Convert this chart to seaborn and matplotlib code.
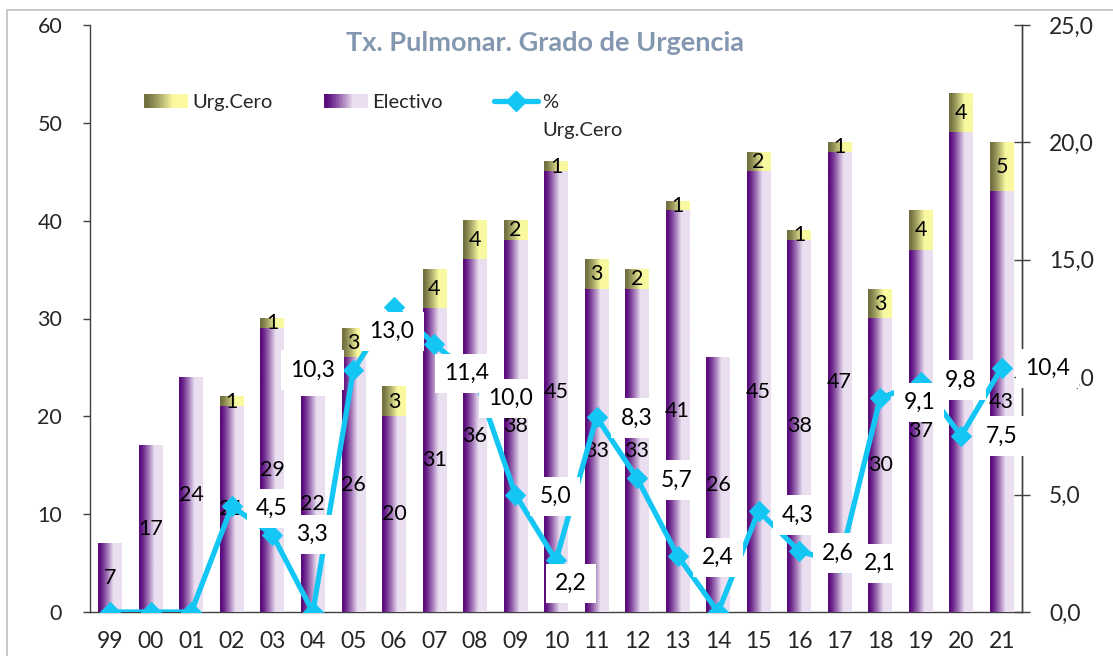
import numpy as np
import pandas as pd
import matplotlib
matplotlib.use("Agg")
import matplotlib.pyplot as plt
import seaborn as sns
from matplotlib.colors import to_rgb
from matplotlib.legend_handler import HandlerBase
from matplotlib.patches import Rectangle
from matplotlib.lines import Line2D

# Data
years = ["99", "00", "01", "02", "03", "04", "05", "06", "07", "08", "09", "10",
         "11", "12", "13", "14", "15", "16", "17", "18", "19", "20", "21"]
electivo = [7, 17, 24, 21, 29, 22, 26, 20, 31, 36, 38, 45, 33, 33, 41, 26, 45, 38, 47, 30, 37, 49, 43]
urg_cero = [0, 0, 0, 1, 1, 0, 3, 3, 4, 4, 2, 1, 3, 2, 1, 0, 2, 1, 1, 3, 4, 4, 5]
pct_urg = [0.0, 0.0, 0.0, 4.5, 3.3, 0.0, 10.3, 13.0, 11.4, 10.0, 5.0, 2.2, 8.3, 5.7,
           2.4, 0.0, 4.3, 2.6, 2.1, 9.1, 9.8, 7.5, 10.4]

df = pd.DataFrame({"year": years, "electivo": electivo, "urg": urg_cero, "pct": pct_urg})
df["total"] = df["electivo"] + df["urg"]

PURPLE = ("#5A0C7E", "#EADFF0")
OLIVE = ("#727040", "#FAF9A0")
CYAN = "#13C6F4"
FONT = "Lato"


def gradient_colors(c0, c1, n=64):
    t = np.linspace(0, 1, n)
    f = np.clip((t - 0.05) / 0.6, 0, 1) ** 1.2
    a, b = np.array(to_rgb(c0)), np.array(to_rgb(c1))
    return a[None, :] + (b - a)[None, :] * f[:, None]


class GradientHandler(HandlerBase):
    def __init__(self, c0, c1):
        super().__init__()
        self.cols = gradient_colors(c0, c1, 30)

    def create_artists(self, legend, orig_handle, xdescent, ydescent, width, height, fontsize, trans):
        n = len(self.cols)
        arts = []
        for k, c in enumerate(self.cols):
            r = Rectangle((-xdescent + k * width / n, -ydescent), width / n * 1.05, height,
                          facecolor=c, edgecolor="none", transform=trans)
            arts.append(r)
        return arts


sns.set_style("white")
plt.rcParams["font.family"] = [FONT, "DejaVu Sans"]

fig = plt.figure(figsize=(11.13, 6.56), dpi=100)
ax = fig.add_axes([90 / 1113, 44 / 656, 932 / 1113, 587 / 656])

sns.barplot(data=df, x="year", y="total", order=years, color=OLIVE[1], width=0.585,
            errorbar=None, ax=ax)
sns.barplot(data=df, x="year", y="electivo", order=years, color=PURPLE[1], width=0.585,
            errorbar=None, ax=ax)

# gradient fills
for ci, (cont, cols) in enumerate(zip(ax.containers, [OLIVE, PURPLE])):
    grad = gradient_colors(*cols)[None, :, :]
    for p in cont.patches:
        x0, y0, w, h = p.get_x(), p.get_y(), p.get_width(), p.get_height()
        p.set_facecolor("none")
        p.set_edgecolor("none")
        if h <= 0:
            continue
        ax.imshow(grad, extent=[x0, x0 + w, y0, y0 + h], aspect="auto",
                  interpolation="bilinear", zorder=2 + ci)

ax.set_xlim(-0.5, len(years) - 0.5)
ax.set_ylim(0, 60)
ax.set_yticks(range(0, 61, 10))
ax.set_xlabel("")
ax.set_ylabel("")

# bar labels
for i, (e, u) in enumerate(zip(electivo, urg_cero)):
    if e > 0:
        ax.text(i, e / 2, str(e), ha="center", va="center", fontsize=15.5, color="black", zorder=5)
    if u > 0:
        ax.text(i, e + u / 2, str(u), ha="center", va="center", fontsize=15.5, color="black", zorder=5)

ax.spines["top"].set_visible(False)
for s in ["left", "bottom", "right"]:
    ax.spines[s].set_color("#404040")
    ax.spines[s].set_linewidth(1.0)

ax.set_xticks(np.arange(len(years)))
ax.set_xticklabels(years)
ax.set_xticks(np.arange(len(years) + 1) - 0.5, minor=True)
ax.tick_params(axis="x", which="major", length=0, pad=14, labelsize=16.5)
ax.tick_params(axis="x", which="minor", length=6, width=1, color="#404040", direction="out")
ax.tick_params(axis="y", which="major", length=5, width=1, color="#404040", direction="out",
               pad=15, labelsize=15.5, left=True)

# percentage line
ax2 = ax.twinx()
sns.lineplot(x=np.arange(len(years)), y=pct_urg, ax=ax2, color=CYAN, linewidth=3.8,
             marker="D", markersize=10.5, markeredgecolor=CYAN, zorder=6)
ax2.set_ylim(0, 25)
ax2.set_yticks(np.arange(0, 25.1, 5))
ax2.set_yticklabels([f"{v:.1f}".replace(".", ",") for v in np.arange(0, 25.1, 5)])
ax2.tick_params(axis="y", length=11, width=1, color="#404040", direction="inout",
                pad=14, labelsize=16.5, right=True)
for s in ["top", "left", "bottom"]:
    ax2.spines[s].set_visible(False)
ax2.spines["right"].set_color("#404040")
ax2.spines["right"].set_linewidth(1.0)

# value labels for the line (pixel offsets from each point)
label_offsets = {3: (40, -2), 4: (40, 0), 6: (-41, 0), 7: (-2, -25), 8: (32, -29),
                 9: (36, -21), 10: (40, -2), 11: (15, -23), 12: (40, -1), 13: (40, -2),
                 14: (40, -2), 16: (39, -4), 17: (39, -2), 18: (40, -1), 19: (39, -4),
                 20: (40, 2), 21: (40, 0), 22: (46, -1)}
for i, v in enumerate(pct_urg):
    if v == 0:
        continue
    dx, dy = label_offsets.get(i, (40, 0))
    ax2.annotate(f"{v:.1f}".replace(".", ","), (i, v), xytext=(dx, dy),
                 textcoords="offset pixels", ha="center", va="center", fontsize=16.5,
                 color="black", zorder=8,
                 bbox=dict(boxstyle="square,pad=0.4", facecolor="white", edgecolor="none"))

# title
fig.text(545 / 1113, 1 - 43 / 656, "Tx. Pulmonar. Grado de Urgencia", ha="center", va="center",
         fontsize=19.5, fontweight="bold", color="#8497B0")

# legend
handles = [Rectangle((0, 0), 1, 1), Rectangle((0, 0), 1, 1),
           Line2D([], [], color=CYAN, linewidth=3.8, marker="D", markersize=10.5)]
leg = ax.legend(handles, ["Urg.Cero", "Electivo", "%"], ncol=3, frameon=False,
                loc="upper left", bbox_to_anchor=(144 / 1113, 1 - 94 / 656),
                bbox_transform=fig.transFigure, borderpad=0, borderaxespad=0,
                handlelength=2.2, handletextpad=0.2, columnspacing=2.55, fontsize=14.5,
                handler_map={handles[0]: GradientHandler(*OLIVE),
                             handles[1]: GradientHandler(*PURPLE)})
leg.set_zorder(10)
fig.canvas.draw()
bb = leg.get_texts()[2].get_window_extent()
fig.text(bb.x0 / 1113, ((bb.y0 + bb.y1) / 2 - 28) / 656, "Urg.Cero", ha="left", va="center",
         fontsize=14.5)

# outer border
fig.patches.append(Rectangle((7 / 1113, -0.05), 1.2, 1 - 10 / 656 + 0.05, transform=fig.transFigure,
                             facecolor="none", edgecolor="#BFBFBF", linewidth=1.2))

fig.savefig("out.png", dpi=100)
